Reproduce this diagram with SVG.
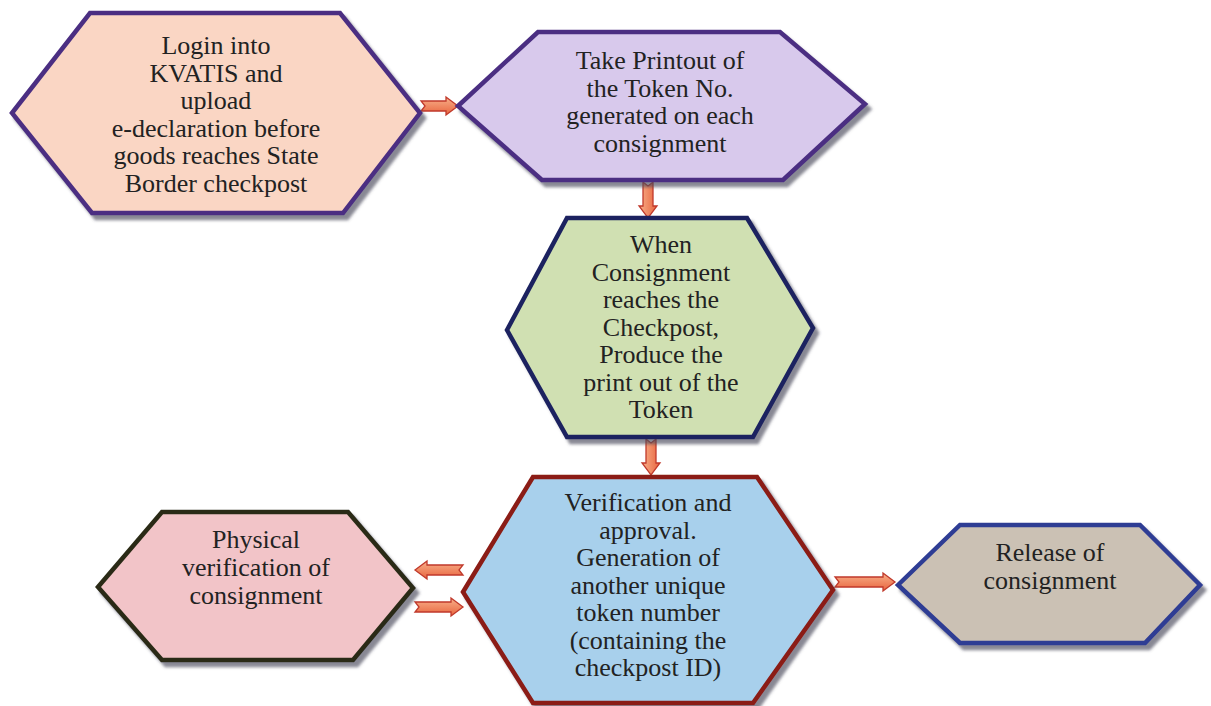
<svg xmlns="http://www.w3.org/2000/svg" width="1211" height="706" viewBox="0 0 1211 706">
<defs>
<filter id="sh" x="-10%" y="-10%" width="125%" height="125%">
<feDropShadow dx="4" dy="5" stdDeviation="1.5" flood-color="#4a4a5a" flood-opacity="0.65"/>
</filter>
<linearGradient id="ag" x1="0" y1="0" x2="0" y2="1">
<stop offset="0" stop-color="#f8b08a"/>
<stop offset="1" stop-color="#e8643e"/>
</linearGradient>
<linearGradient id="agv" x1="0" y1="0" x2="1" y2="0">
<stop offset="0" stop-color="#f8b08a"/>
<stop offset="1" stop-color="#e8643e"/>
</linearGradient>
</defs>
<style>
.hex{stroke-width:4.5;stroke-linejoin:miter;filter:url(#sh)}
.t{font-size:26px;fill:#222;text-anchor:middle}
.arr{fill:url(#ag);stroke:#c0392b;stroke-width:1.3;stroke-linejoin:miter}
.arrv{fill:url(#agv);stroke:#c0392b;stroke-width:1.3;stroke-linejoin:miter}
</style>
<rect width="1211" height="706" fill="#ffffff"/>

<g id="connectors">
<path class="arr" d="M421,101 L446,101 L446,97 L458,106 L446,115 L446,111 L421,111 L425,106 Z"/>
<path class="arrv" d="M643,182 L643,206 L639,206 L648,218 L657,206 L653,206 L653,182 L648,186 Z"/>
<path class="arrv" d="M646,439 L646,463 L642,463 L651,475 L660,463 L656,463 L656,439 L651,443 Z"/>
<path class="arr" d="M463,565 L427,565 L427,561 L415,570 L427,579 L427,575 L463,575 L459,570 Z"/>
<path class="arr" d="M415,602 L451,602 L451,598 L463,607 L451,616 L451,612 L415,612 L419,607 Z"/>
<path class="arr" d="M835,577 L883,577 L883,573 L895,582 L883,591 L883,587 L835,587 L839,582 Z"/>
</g>

<g class="t" font-family="Liberation Serif, DejaVu Serif, serif">
<g id="node-login">
<polygon class="hex" points="12,113 90,13 340,13 420,113 343,213 92,213" fill="#fad6c4" stroke="#4b2f82"/>
<text x="216" y="54">Login into</text>
<text x="216" y="81.5">KVATIS and</text>
<text x="216" y="109">upload</text>
<text x="216" y="136.5">e-declaration before</text>
<text x="216" y="164">goods reaches State</text>
<text x="216" y="191.5">Border checkpost</text>
</g>

<g id="node-printout">
<polygon class="hex" points="458,106 538,32 780,32 865,104 783,180 542,180" fill="#d8c9ec" stroke="#4b2f82"/>
<text x="660" y="69">Take Printout of</text>
<text x="660" y="96.5">the Token No.</text>
<text x="660" y="124">generated on each</text>
<text x="660" y="151.5">consignment</text>
</g>

<g id="node-checkpost">
<polygon class="hex" points="507,330 567,218 747,218 813,328 753,437 567,437" fill="#d0e0b2" stroke="#1c2460"/>
<text x="661" y="253">When</text>
<text x="661" y="280.5">Consignment</text>
<text x="661" y="308">reaches the</text>
<text x="661" y="335.5">Checkpost,</text>
<text x="661" y="363">Produce the</text>
<text x="661" y="390.5">print out of the</text>
<text x="661" y="418">Token</text>
</g>

<g id="node-verification">
<polygon class="hex" points="463,592 533,477 757,477 833,590 753,703 533,703" fill="#a8d0ec" stroke="#8b1c14"/>
<text x="648" y="511">Verification and</text>
<text x="648" y="538.5">approval.</text>
<text x="648" y="566">Generation of</text>
<text x="648" y="593.5">another unique</text>
<text x="648" y="621">token number</text>
<text x="648" y="648.5">(containing the</text>
<text x="648" y="676">checkpost ID)</text>
</g>

<g id="node-physical">
<polygon class="hex" points="98,587 162,512 348,512 413,588 353,660 162,660" fill="#f2c4c8" stroke="#2c2c18"/>
<text x="256" y="548">Physical</text>
<text x="256" y="576">verification of</text>
<text x="256" y="604">consignment</text>
</g>

<g id="node-release">
<polygon class="hex" points="898,585 960,525 1140,525 1200,585 1145,643 960,643" fill="#cbc1b4" stroke="#2f3c94"/>
<text x="1050" y="561">Release of</text>
<text x="1050" y="589">consignment</text>
</g>
</g>
</svg>
